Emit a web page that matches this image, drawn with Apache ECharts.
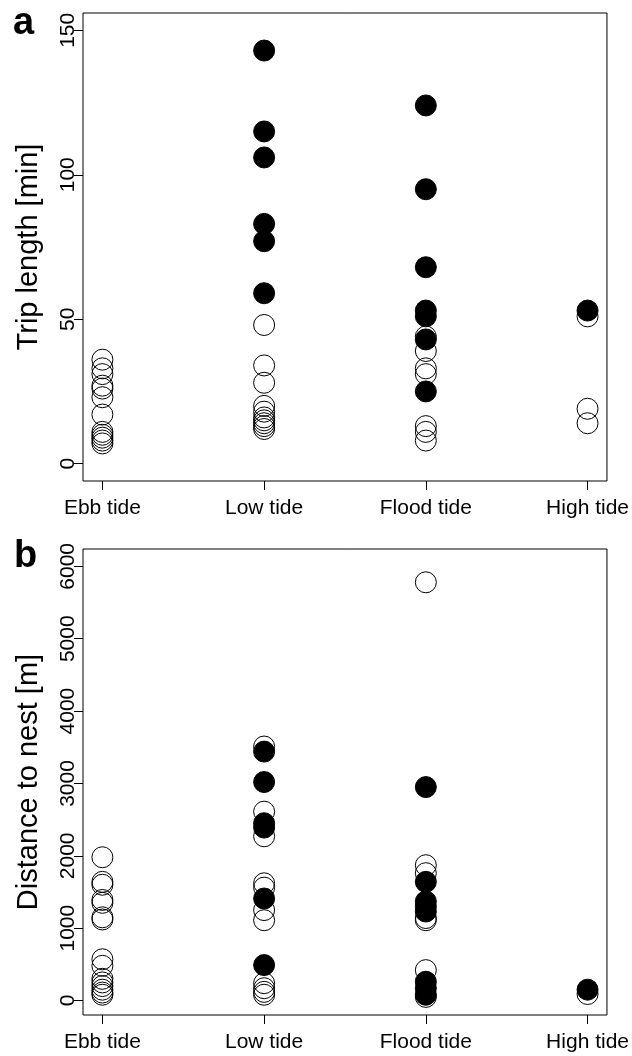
<!DOCTYPE html>
<html>
<head>
<meta charset="utf-8">
<script src="https://cdn.jsdelivr.net/npm/echarts@6/dist/echarts.min.js"></script>
<style>
html,body{margin:0;padding:0;background:#fff;}
#chart{width:632px;height:1056px;}
</style>
</head>
<body>
<div id="chart"></div>
<script>
// Categories (x positions 1..4)
const categories = ['Ebb tide', 'Low tide', 'Flood tide', 'High tide'];
const yTicksA = [0, 50, 100, 150];
const yTicksB = [0, 1000, 2000, 3000, 4000, 5000, 6000];

// Panel a: trip length [min]
const tripOpen = [
  [36, 33, 31, 27, 26, 23, 17, 11, 10, 9, 8, 7],   // Ebb
  [48, 34, 28, 20, 18, 16, 15, 14, 13, 12],        // Low
  [44, 39, 33, 31, 13, 11, 8],                     // Flood
  [51, 19, 14]                                     // High
];
const tripFilled = [
  [],
  [143, 115, 106, 83, 77, 59],
  [124, 95, 68, 53, 51, 43, 25],
  [53]
];

// Panel b: distance to nest [m]
const distOpen = [
  [1980, 1640, 1600, 1390, 1350, 1150, 1120, 570, 480, 300, 250, 200, 150, 110, 80],
  [3510, 2610, 2270, 1620, 1560, 1250, 1110, 240, 170, 120, 80],
  [5780, 1870, 1760, 1140, 1110, 420, 50],
  [90]
];
const distFilled = [
  [],
  [3440, 3020, 2450, 2390, 1410, 490],
  [2950, 1640, 1370, 1300, 1230, 260, 170, 80],
  [150]
];

function toPoints(groups) {
  const pts = [];
  groups.forEach((vals, i) => vals.forEach(v => pts.push([i + 1, v])));
  return pts;
}

const FONT = '"Liberation Sans", Arial, sans-serif';
const chart = echarts.init(document.getElementById('chart'), null, {renderer: 'canvas'});

function xAxisFor(gridIndex) {
  return {
    type: 'value', gridIndex: gridIndex, min: 0.88, max: 4.12,
    splitLine: {show: false},
    axisLine: {show: false, onZero: false},
    axisTick: {show: true, length: 9, customValues: [1, 2, 3, 4], lineStyle: {color: '#000', width: 1}},
    axisLabel: {
      customValues: [1, 2, 3, 4], margin: 17,
      formatter: v => categories[Math.round(v) - 1] || '',
      color: '#000', fontSize: 21, fontFamily: FONT
    }
  };
}

function yAxisFor(gridIndex, min, max, ticks, name) {
  return {
    type: 'value', gridIndex: gridIndex, min: min, max: max,
    splitLine: {show: false},
    axisLine: {show: false, onZero: false},
    axisTick: {show: true, length: 9, customValues: ticks, lineStyle: {color: '#000', width: 1}},
    axisLabel: {
      customValues: ticks, rotate: 90, margin: 4,
      formatter: v => String(v),
      color: '#000', fontSize: 21, fontFamily: FONT
    },
    name: name, nameLocation: 'middle', nameRotate: 90, nameGap: 40,
    nameTextStyle: {color: '#000', fontSize: 29, fontFamily: FONT}
  };
}

const openStyle = {color: 'rgba(0,0,0,0)', borderColor: '#000', borderWidth: 1, opacity: 1};
const fillStyle = {color: '#000', borderColor: '#000', borderWidth: 1, opacity: 1};

chart.setOption({
  animation: false,
  backgroundColor: '#fff',
  grid: [
    {left: 83, right: 22, top: 13, height: 468, show: true, borderColor: '#000', borderWidth: 1, backgroundColor: 'transparent'},
    {left: 83, right: 22, top: 549, height: 466, show: true, borderColor: '#000', borderWidth: 1, backgroundColor: 'transparent'}
  ],
  xAxis: [xAxisFor(0), xAxisFor(1)],
  yAxis: [
    yAxisFor(0, -6, 156, yTicksA, 'Trip length [min]'),
    yAxisFor(1, -200, 6240, yTicksB, 'Distance to nest [m]')
  ],
  series: [
    {type: 'scatter', xAxisIndex: 0, yAxisIndex: 0, symbol: 'circle', symbolSize: 21, data: toPoints(tripOpen), itemStyle: openStyle, silent: true},
    {type: 'scatter', xAxisIndex: 0, yAxisIndex: 0, symbol: 'circle', symbolSize: 21, data: toPoints(tripFilled), itemStyle: fillStyle, silent: true},
    {type: 'scatter', xAxisIndex: 1, yAxisIndex: 1, symbol: 'circle', symbolSize: 21, data: toPoints(distOpen), itemStyle: openStyle, silent: true},
    {type: 'scatter', xAxisIndex: 1, yAxisIndex: 1, symbol: 'circle', symbolSize: 21, data: toPoints(distFilled), itemStyle: fillStyle, silent: true}
  ],
  graphic: [
    {type: 'text', left: 13, top: 5, style: {text: 'a', font: 'bold 38px ' + FONT, fill: '#000'}},
    {type: 'text', left: 14, top: 538, style: {text: 'b', font: 'bold 38px ' + FONT, fill: '#000'}}
  ]
});
</script>
</body>
</html>
